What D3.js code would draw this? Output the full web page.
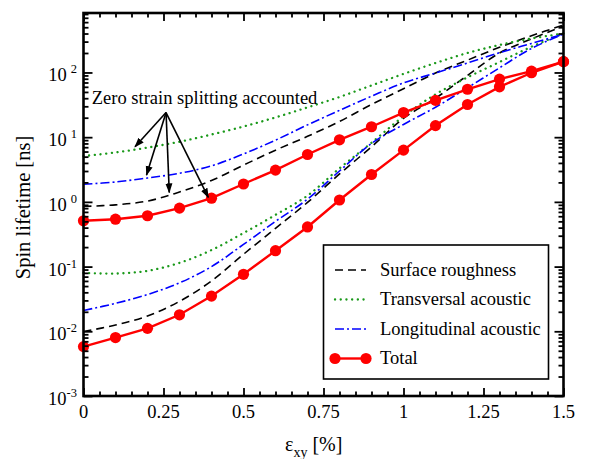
<!DOCTYPE html>
<html>
<head>
<meta charset="utf-8">
<script src="https://cdn.jsdelivr.net/npm/d3@7.9.0/dist/d3.min.js"></script>
<style>
  body { margin: 0; background: #fff; }
  svg { display: block; font-family: "Liberation Serif", "Times New Roman", serif; }
</style>
</head>
<body>
<div id="chart"></div>
<script>
// strain values (%) where the curves were read
const strain = [0, 0.1, 0.2, 0.3, 0.4, 0.5, 0.6, 0.7, 0.8, 0.9, 1.0, 1.1, 1.2, 1.3, 1.4, 1.5];

// with zero strain splitting
const roughSplit = [0.85, 0.90, 1.03, 1.42, 2.14, 3.7, 6.3, 10.3, 17.5, 32, 56, 98, 155, 245, 370, 540];
const transSplit = [5.1, 5.8, 6.9, 8.5, 11.0, 14.6, 20.2, 28.8, 41.8, 63, 95, 140, 200, 266, 335, 400];
const longSplit  = [1.87, 2.03, 2.34, 2.77, 3.6, 5.5, 9.0, 15.5, 26, 43, 69, 98, 140, 202, 281, 390];
const totalSplit = [0.51, 0.54, 0.61, 0.80, 1.14, 1.89, 3.1, 5.4, 9.1, 14.5, 24, 37, 55, 79, 105, 147];

// without splitting
const roughNoSplit = [0.0099, 0.0125, 0.0172, 0.029, 0.060, 0.155, 0.39, 0.98, 2.7, 7.1, 19.5, 40, 90, 200, 330, 524];
const transNoSplit = [0.080, 0.078, 0.086, 0.114, 0.18, 0.33, 0.63, 1.25, 3.3, 8.2, 21, 46, 84, 145, 250, 400];
const longNoSplit  = [0.021, 0.027, 0.037, 0.056, 0.10, 0.22, 0.50, 1.1, 3.0, 8.0, 15.7, 29, 58, 118, 235, 393];
const totalNoSplit = [0.0058, 0.0080, 0.0111, 0.018, 0.035, 0.076, 0.176, 0.41, 1.07, 2.65, 6.3, 15.1, 32, 60, 99, 147];

const xTicks = [0, 0.25, 0.5, 0.75, 1, 1.25, 1.5];
const xTickLabels = ["0", "0.25", "0.5", "0.75", "1", "1.25", "1.5"];
const yExponents = [-3, -2, -1, 0, 1, 2];

const legendNames = ["Surface roughness", "Transversal acoustic", "Longitudinal acoustic", "Total"];

const annotText = "Zero strain splitting accounted";
const annotAt = [0.026, 33];
const arrowFrom = [0.258, 24];
const arrowTips = [[0.161, 7.1], [0.197, 2.6], [0.268, 1.40], [0.39, 1.17]];

const width = 589, height = 459;
const plot = { left: 83.5, right: 563.5, top: 13, bottom: 396 };

const svg = d3.select('#chart').append('svg')
  .attr('width', width).attr('height', height);

const x = d3.scaleLinear().domain([0, 1.5]).range([plot.left, plot.right]);
const y = d3.scaleLog().domain([1e-3, 830]).range([plot.bottom, plot.top]);

const styles = {
  rough: { color: '#000', dash: '8,5', width: 1.6, cap: 'butt' },
  trans: { color: '#1a991a', dash: '0.1,5.6', width: 2.3, cap: 'round' },
  long:  { color: '#0000ff', dash: '9,3,2,3', width: 1.6, cap: 'butt' },
  total: { color: '#ff0000', dash: null, width: 2.4, cap: 'butt' }
};

const smooth = d3.line()
  .x((d) => x(d[0]))
  .y((d) => y(d[1]))
  .curve(d3.curveCatmullRom.alpha(0.5));

const straight = d3.line()
  .x((d) => x(d[0]))
  .y((d) => y(d[1]));

const curves = [
  [roughNoSplit, 'rough'], [transNoSplit, 'trans'], [longNoSplit, 'long'],
  [roughSplit, 'rough'], [transSplit, 'trans'], [longSplit, 'long']
];

const g = svg.append('g');

curves.forEach(([vals, key]) => {
  const st = styles[key];
  g.append('path')
    .datum(strain.map((s, i) => [s, vals[i]]))
    .attr('d', smooth)
    .attr('fill', 'none')
    .attr('stroke', st.color)
    .attr('stroke-width', st.width)
    .attr('stroke-dasharray', st.dash)
    .attr('stroke-linecap', st.cap);
});

[totalNoSplit, totalSplit].forEach((vals) => {
  const pts = strain.map((s, i) => [s, vals[i]]);
  g.append('path')
    .datum(pts)
    .attr('d', straight)
    .attr('fill', 'none')
    .attr('stroke', styles.total.color)
    .attr('stroke-width', styles.total.width);
  g.selectAll(null).data(pts).join('circle')
    .attr('cx', (d) => x(d[0]))
    .attr('cy', (d) => y(d[1]))
    .attr('r', 5.6)
    .attr('fill', '#ff0000');
});

// annotation arrows
const defs = svg.append('defs');
defs.append('marker')
  .attr('id', 'arrow')
  .attr('viewBox', '0 0 10 10')
  .attr('refX', 9).attr('refY', 5)
  .attr('markerWidth', 10).attr('markerHeight', 10)
  .attr('markerUnits', 'userSpaceOnUse')
  .attr('orient', 'auto')
  .append('path').attr('d', 'M0,1.5 L10,5 L0,8.5 Z').attr('fill', '#000');

svg.append('g').selectAll('line').data(arrowTips).join('line')
  .attr('x1', x(arrowFrom[0])).attr('y1', y(arrowFrom[1]))
  .attr('x2', (d) => x(d[0])).attr('y2', (d) => y(d[1]))
  .attr('stroke', '#000').attr('stroke-width', 1.6)
  .attr('marker-end', 'url(#arrow)');

svg.append('text')
  .attr('x', x(annotAt[0])).attr('y', y(annotAt[1]))
  .attr('font-size', 18.5)
  .text(annotText);

// ticks
const yMajor = yExponents.map((e) => Math.pow(10, e));
const yMinor = [];
yExponents.forEach((e) => {
  for (let k = 2; k <= 9; k++) {
    const v = k * Math.pow(10, e);
    if (v <= 830) yMinor.push(v);
  }
});
const xMinor = d3.range(0, 1.5001, 0.05).filter((v) => Math.abs(v / 0.25 - Math.round(v / 0.25)) > 1e-6);

function tickGroup(axis, tx, ty) {
  const a = svg.append('g')
    .attr('transform', `translate(${tx},${ty})`)
    .call(axis.tickFormat(''));
  a.select('.domain').remove();
  a.selectAll('line').attr('stroke', '#000').attr('stroke-width', 1.8);
  return a;
}

tickGroup(d3.axisLeft(y).tickValues(yMajor).tickSize(-9), plot.left, 0);
tickGroup(d3.axisLeft(y).tickValues(yMinor).tickSize(-5), plot.left, 0);
tickGroup(d3.axisRight(y).tickValues(yMajor).tickSize(-9), plot.right, 0);
tickGroup(d3.axisRight(y).tickValues(yMinor).tickSize(-5), plot.right, 0);
tickGroup(d3.axisBottom(x).tickValues(xTicks).tickSize(-8), 0, plot.bottom);
tickGroup(d3.axisBottom(x).tickValues(xMinor).tickSize(-4.5), 0, plot.bottom);
tickGroup(d3.axisTop(x).tickValues(xTicks).tickSize(-8), 0, plot.top);
tickGroup(d3.axisTop(x).tickValues(xMinor).tickSize(-4.5), 0, plot.top);

// frame
svg.append('rect')
  .attr('x', plot.left).attr('y', plot.top)
  .attr('width', plot.right - plot.left).attr('height', plot.bottom - plot.top)
  .attr('fill', 'none').attr('stroke', '#000').attr('stroke-width', 2.6);

// x tick labels
svg.append('g').selectAll('text').data(xTicks).join('text')
  .attr('x', (d) => x(d)).attr('y', plot.bottom + 22)
  .attr('text-anchor', 'middle')
  .attr('font-size', 18.5)
  .text((d, i) => xTickLabels[i]);

// y tick labels 10^n
const yl = svg.append('g').selectAll('text').data(yExponents).join('text')
  .attr('x', plot.left - 6.5)
  .attr('y', (d) => y(Math.pow(10, d)) + 9)
  .attr('text-anchor', 'end')
  .attr('font-size', 18.5);
yl.append('tspan').text('10');
yl.append('tspan')
  .attr('font-size', 12.5)
  .attr('dy', -8)
  .attr('dx', (d) => (d >= 0 ? 4 : 0))
  .text((d) => (d < 0 ? '-' + (-d) : String(d)));

// axis titles
const xt = svg.append('text')
  .attr('x', 285).attr('y', 451)
  .attr('font-size', 20);
xt.append('tspan').text('ε');
xt.append('tspan').attr('font-size', 14).attr('dy', 6).text('xy');
xt.append('tspan').attr('dy', -6).text(' [%]');

svg.append('text')
  .attr('transform', `translate(30,${(plot.top + plot.bottom) / 2 + 3}) rotate(-90)`)
  .attr('text-anchor', 'middle')
  .attr('font-size', 20.5)
  .text('Spin lifetime [ns]');

// legend
const lg = svg.append('g');
lg.append('rect')
  .attr('x', 323.5).attr('y', 245).attr('width', 225).attr('height', 134)
  .attr('fill', '#fff').attr('stroke', '#000').attr('stroke-width', 1.6);

const legendKeys = ['rough', 'trans', 'long', 'total'];
legendKeys.forEach((key, i) => {
  const st = styles[key];
  const ly = 270 + i * 29.5;
  lg.append('line')
    .attr('x1', 335).attr('x2', 366).attr('y1', ly).attr('y2', ly)
    .attr('stroke', st.color).attr('stroke-width', st.width)
    .attr('stroke-dasharray', st.dash)
    .attr('stroke-linecap', st.cap);
  if (key === 'total') {
    lg.selectAll(null).data([335, 366]).join('circle')
      .attr('cx', (d) => d).attr('cy', ly).attr('r', 5.6).attr('fill', '#ff0000');
  }
  lg.append('text')
    .attr('x', 380).attr('y', ly + 5.5)
    .attr('font-size', 18.5)
    .text(legendNames[i]);
});
</script>
</body>
</html>
